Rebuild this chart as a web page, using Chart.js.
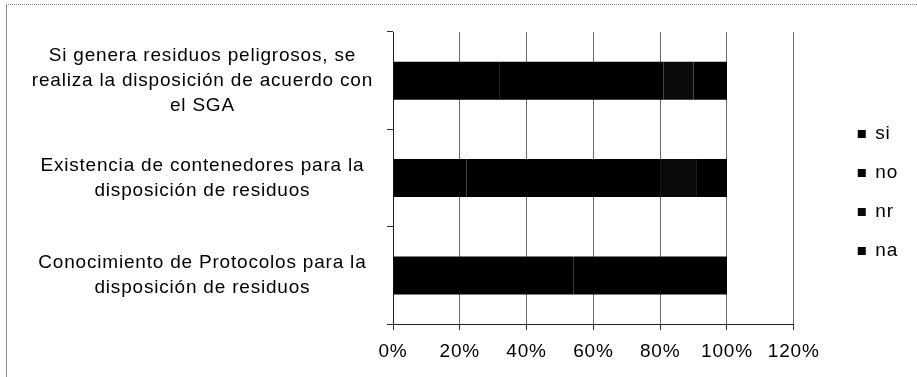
<!DOCTYPE html>
<html>
<head>
<meta charset="utf-8">
<script src="https://cdn.jsdelivr.net/npm/chart.js@4"></script>
<style>
  html, body { margin: 0; padding: 0; background: #fff; }
  #wrap { position: relative; width: 917px; height: 377px; }
  #frame {
    position: absolute; left: 6px; top: 4px; width: 930px; height: 400px;
    border-left: 1px solid #8a8a8a; border-top: 1px dotted #8a8a8a;
  }
  canvas { position: absolute; left: 0; top: 0; }
</style>
</head>
<body>
<div id="wrap">
  <div id="frame"></div>
  <canvas id="chartResiduos" width="917" height="377"></canvas>
</div>
<script>
// Preguntas (de arriba hacia abajo)
const categories = [
    ['Si genera residuos peligrosos, se', 'realiza la disposición de acuerdo con', 'el SGA'],
    ['Existencia de contenedores para la', 'disposición de residuos'],
    ['Conocimiento de Protocolos para la', 'disposición de residuos'],
];

// Porcentaje de respuestas por pregunta
const siValues = [32, 22, 54];
const noValues = [49, 58, 46];
const nrValues = [9, 11, 0];
const naValues = [10, 9, 0];

const xTicks = [0, 20, 40, 60, 80, 100, 120];

const font = { family: '"Liberation Sans", Arial, sans-serif', size: 19 };

function serie(label, values, color) {
    return {
        label: label,
        data: values,
        backgroundColor: color,
        borderWidth: 0,
        barPercentage: 0.39,
        categoryPercentage: 1,
    };
}

// texto algo más ancho; se fija en cada actualización porque
// el redimensionado del canvas reinicia el estado del contexto
const wideText = {
    id: 'wideText',
    beforeUpdate: (chart) => { chart.ctx.letterSpacing = '0.8px'; },
    beforeDraw: (chart) => { chart.ctx.letterSpacing = '0.8px'; },
};

// sube un poco la leyenda respecto al centro del área
const legendOffset = {
    id: 'legendOffset',
    afterLayout: (chart) => {
        chart.legend.top -= 10;
        chart.legend.bottom -= 10;
    },
};

const ctx = document.getElementById('chartResiduos').getContext('2d');

new Chart(ctx, {
    type: 'bar',
    data: {
        labels: categories,
        datasets: [
            serie('si', siValues, '#000'),
            serie('no', noValues, '#000'),
            serie('nr', nrValues, '#0a0a0a'),
            serie('na', naValues, '#000'),
        ],
    },
    plugins: [wideText, legendOffset],
    options: {
        indexAxis: 'y',
        responsive: false,
        animation: false,
        layout: { padding: { left: 20, top: 32, right: 9, bottom: 4 } },
        plugins: {
            legend: {
                position: 'right',
                labels: {
                    color: '#000',
                    font: font,
                    boxWidth: 8,
                    boxHeight: 8,
                    padding: 20,
                },
            },
            tooltip: { enabled: false },
        },
        scales: {
            x: {
                stacked: true,
                min: 0,
                max: 120,
                afterBuildTicks: (scale) => { scale.ticks = xTicks.map(v => ({ value: v })); },
                ticks: {
                    color: '#000',
                    font: font,
                    padding: 10,
                    callback: (v) => v + '%',
                },
                grid: {
                    color: '#6a6a6a',
                    lineWidth: 1,
                    tickLength: 6,
                    tickColor: '#333',
                },
                border: { color: '#222', width: 1 },
            },
            y: {
                stacked: true,
                afterFit: (scale) => {
                    scale.width = 373;
                    scale.paddingTop = 0;
                    scale.paddingBottom = 0;
                },
                ticks: {
                    color: '#000',
                    font: { ...font, lineHeight: 1.3 },
                    crossAlign: 'center',
                    padding: 14,
                },
                grid: {
                    drawOnChartArea: false,
                    tickLength: 6,
                    tickColor: '#333',
                    offset: true,
                },
                border: { color: '#222', width: 1 },
            },
            gap: {
                type: 'linear',
                position: 'right',
                display: true,
                ticks: { display: false },
                grid: { display: false },
                border: { display: false },
                afterFit: (scale) => { scale.width = 44; },
            },
        },
    },
});
</script>
</body>
</html>
